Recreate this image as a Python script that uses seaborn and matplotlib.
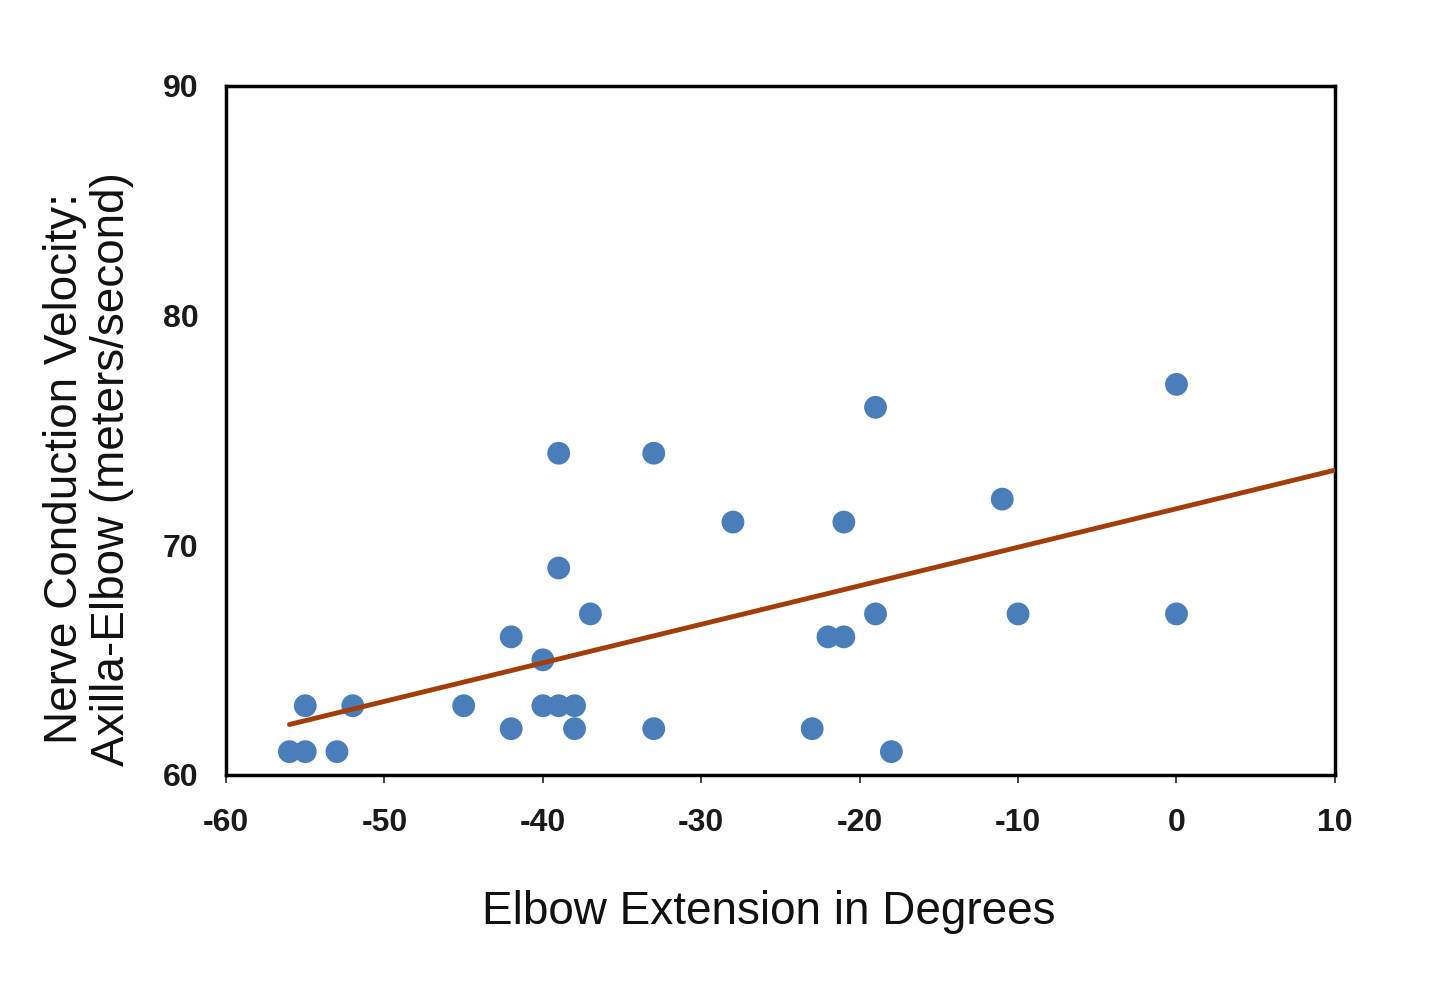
import matplotlib
matplotlib.use("Agg")
import matplotlib.pyplot as plt
import seaborn as sns
import numpy as np
import pandas as pd

# Data
elbow_extension = [-56, -55, -55, -53, -52, -45, -42, -42, -40, -40, -39, -38, -38,
                   -39, -39, -37, -33, -33, -28, -23, -22, -21, -21, -19, -19, -18,
                   -11, -10, 0, 0]
ncv = [61, 61, 63, 61, 63, 63, 66, 62, 65, 63, 63, 63, 62,
       74, 69, 67, 74, 62, 71, 62, 66, 66, 71, 76, 67, 61,
       72, 67, 77, 67]
x_ticks = [-60, -50, -40, -30, -20, -10, 0, 10]
y_ticks = [60, 70, 80, 90]
trend_end = 10

df = pd.DataFrame({"x": elbow_extension, "y": ncv})

# least-squares trend line computed from the data
slope, intercept = np.polyfit(df["x"], df["y"], 1)
trend_x = np.array([df["x"].min(), trend_end])
trend = pd.DataFrame({"x": trend_x, "y": slope * trend_x + intercept})

sns.set_style("white")
plt.rcParams['font.family'] = ['Liberation Sans', 'DejaVu Sans']

fig = plt.figure(figsize=(14.4, 9.88), dpi=100)
ax = fig.add_axes([0.157, 0.216, 0.770, 0.697])

sns.scatterplot(data=df, x="x", y="y", ax=ax, s=270, color="#4A7EBB",
                edgecolor="none", zorder=3)
sns.lineplot(data=trend, x="x", y="y", ax=ax, color="#A33E0B", lw=3.5, zorder=4)
ax.set_xlim(-60, 10)
ax.set_ylim(60, 90)

ax.set_xticks(x_ticks)
ax.set_yticks(y_ticks)
ax.set_xticklabels([str(t) for t in x_ticks])
ax.set_yticklabels([str(t) for t in y_ticks])
ax.tick_params(axis="x", direction="out", length=6, width=1.2, colors="#222222",
               labelsize=23, pad=18, bottom=True)
ax.tick_params(axis="y", length=0, labelsize=23, pad=20, colors="#222222")
for lbl in ax.get_xticklabels() + ax.get_yticklabels():
    lbl.set_fontweight("bold")
    lbl.set_color("#1a1a1a")

for sp in ax.spines.values():
    sp.set_visible(True)
    sp.set_color("black")
    sp.set_linewidth(2.5)

ax.set_xlabel("Elbow Extension in Degrees", fontsize=33, color="#111111", va="center")
ax.xaxis.set_label_coords(0.489, -0.199)
ax.set_ylabel("Nerve Conduction Velocity:\nAxilla-Elbow (meters/second)", fontsize=33,
              color="#111111", linespacing=1.1, va="center")
ax.yaxis.set_label_coords(-0.124, 0.444)

fig.savefig("out.png", dpi=100, facecolor="white")
